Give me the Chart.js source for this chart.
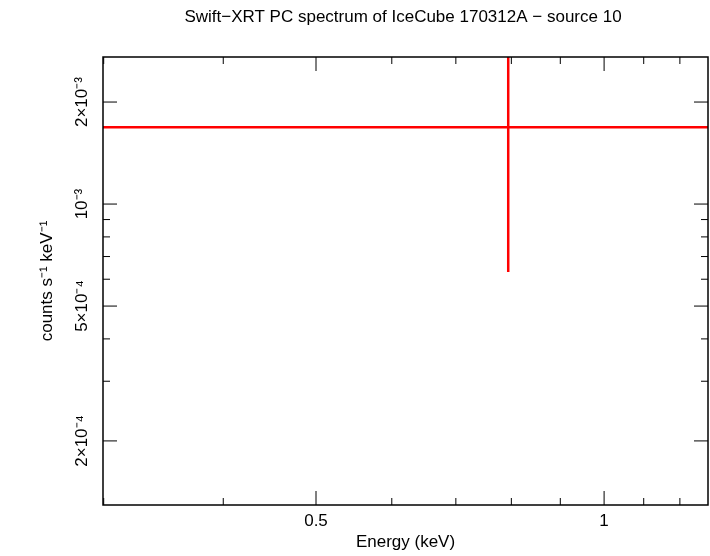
<!DOCTYPE html>
<html><head><meta charset="utf-8">
<script src="https://cdn.jsdelivr.net/npm/chart.js@4.4.0/dist/chart.umd.min.js"></script>
<style>html,body{margin:0;background:#fff}#wrap{width:710px;height:556px}</style>
</head><body><div id="wrap"><canvas id="c" width="710" height="556"></canvas></div>
<script>
// spectrum point (keV, counts/s/keV)
const energy = [0.794];
const energyLow = [0.2];
const energyHigh = [2.0];
const rate = [1.686e-3];
const rateLow = [6.3e-4];
const rateHigh = [5e-3];
const yTickVals = [2e-4, 5e-4, 1e-3, 2e-3];
const yTickLabels = ['2×10⁻⁴', '5×10⁻⁴', '10⁻³', '2×10⁻³'];
const xTickVals = [0.5, 1];
const xTickLabels = ['0.5', '1'];

const datasets = [];
energy.forEach((e, i) => {
  datasets.push({data: [{x: energyLow[i], y: rate[i]}, {x: energyHigh[i], y: rate[i]}]});
  datasets.push({data: [{x: e, y: rateLow[i]}, {x: e, y: rateHigh[i]}]});
});

const FONT = '"Liberation Sans", Arial, sans-serif';
const frame = {
  id: 'frame',
  afterDraw(chart) {
    const {ctx, chartArea: a, scales: {x, y}} = chart;
    ctx.save();
    ctx.strokeStyle = '#000'; ctx.lineWidth = 1.5;
    ctx.strokeRect(a.left, a.top, a.right - a.left, a.bottom - a.top);
    ctx.lineWidth = 1;
    const xt = [];
    for (let v = 0.3; v <= 1.3; v = +(v + 0.1).toFixed(1)) xt.push(v);
    xt.forEach(v => {
      const p = x.getPixelForValue(v);
      if (p < a.left || p > a.right) return;
      const L = xTickVals.includes(v) ? 14 : 7;
      ctx.beginPath();
      ctx.moveTo(p, a.bottom); ctx.lineTo(p, a.bottom - L);
      ctx.moveTo(p, a.top); ctx.lineTo(p, a.top + L);
      ctx.stroke();
    });
    const yt = [];
    [1e-4, 1e-3].forEach(d => { for (let k = 1; k <= 9; k++) yt.push(k * d); });
    yt.forEach(v => {
      const p = y.getPixelForValue(v);
      if (p < a.top - 0.5 || p > a.bottom) return;
      const L = yTickVals.some(t => Math.abs(t - v) < 1e-9) ? 14 : 7;
      ctx.beginPath();
      ctx.moveTo(a.left, p); ctx.lineTo(a.left + L, p);
      ctx.moveTo(a.right, p); ctx.lineTo(a.right - L, p);
      ctx.stroke();
    });
    ctx.fillStyle = '#000';
    ctx.font = '17px ' + FONT;
    ctx.textAlign = 'center'; ctx.textBaseline = 'top';
    xTickVals.forEach((v, i) => ctx.fillText(xTickLabels[i], x.getPixelForValue(v), a.bottom + 8));
    yTickVals.forEach((v, i) => {
      ctx.save();
      ctx.translate(a.left - 12, y.getPixelForValue(v));
      ctx.rotate(-Math.PI / 2);
      ctx.textBaseline = 'bottom';
      ctx.fillText(yTickLabels[i], 0, 0);
      ctx.restore();
    });
    ctx.fillText('Energy (keV)', (a.left + a.right) / 2, 534);
    ctx.fillText('Swift−XRT PC spectrum of IceCube 170312A − source 10', 403, 9);
    ctx.save();
    ctx.translate(47, (a.top + a.bottom) / 2);
    ctx.rotate(-Math.PI / 2);
    ctx.textBaseline = 'middle';
    ctx.fillText('counts s⁻¹ keV⁻¹', 0, 0);
    ctx.restore();
    ctx.restore();
  }
};

new Chart(document.getElementById('c'), {
  type: 'line',
  data: {datasets},
  options: {
    responsive: false, animation: false,
    layout: {padding: {left: 0, right: 2, top: 57, bottom: 51}},
    elements: {line: {borderColor: '#ff0000', borderWidth: 2.5}, point: {radius: 0}},
    plugins: {legend: {display: false}, tooltip: {enabled: false}},
    scales: {
      x: {type: 'logarithmic', min: 0.2995, max: 1.284, grid: {display: false}, border: {display: false},
          ticks: {display: false}, afterFit: s => { s.height = 0; }},
      y: {type: 'logarithmic', min: 1.294e-4, max: 2.716e-3, grid: {display: false}, border: {display: false},
          ticks: {display: false}, afterFit: s => { s.width = 103; }}
    }
  },
  plugins: [frame]
});
</script></body></html>
